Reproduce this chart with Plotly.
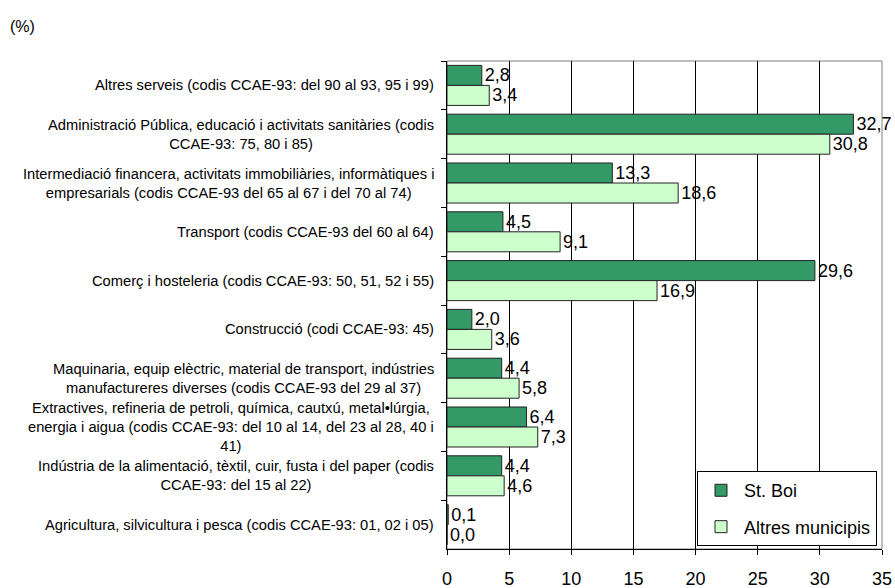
import plotly.graph_objects as go

categories = [
    "Altres serveis (codis CCAE-93: del 90 al 93, 95 i 99)",
    "Administració Pública, educació i activitats sanitàries (codis<br>CCAE-93: 75, 80 i 85)",
    "Intermediació financera, activitats immobiliàries, informàtiques i<br>empresarials (codis CCAE-93 del 65 al 67 i del 70 al 74)",
    "Transport (codis CCAE-93 del 60 al 64)",
    "Comerç i hosteleria (codis CCAE-93: 50, 51, 52 i 55)",
    "Construcció (codi CCAE-93: 45)",
    "Maquinaria, equip elèctric, material de transport, indústries<br>manufactureres diverses (codis CCAE-93 del 29 al 37)",
    "Extractives, refineria de petroli, química, cautxú, metal•lúrgia,<br>energia i aigua (codis CCAE-93: del 10 al 14, del 23 al 28, 40 i<br>41)",
    "Indústria de la alimentació, tèxtil, cuir, fusta i del paper (codis<br>CCAE-93: del 15 al 22)",
    "Agricultura, silvicultura i pesca (codis CCAE-93: 01, 02 i 05)",
]
st_boi = [2.8, 32.7, 13.3, 4.5, 29.6, 2.0, 4.4, 6.4, 4.4, 0.1]
altres = [3.4, 30.8, 18.6, 9.1, 16.9, 3.6, 5.8, 7.3, 4.6, 0.0]
x_ticks = [0, 5, 10, 15, 20, 25, 30, 35]


def fmt(v):
    return f"{v:.1f}".replace(".", ",")


FONT = "Liberation Sans, Arial, sans-serif"

fig = go.Figure()
fig.add_trace(go.Bar(
    y=categories, x=st_boi, orientation="h", name="St. Boi",
    legendgroup="a",
    marker=dict(color="#339966", line=dict(color="#222222", width=1)),
    text=[fmt(v) for v in st_boi], textposition="outside",
    textfont=dict(size=18, color="#000000", family=FONT),
    cliponaxis=False, hoverinfo="skip",
))
fig.add_trace(go.Bar(
    y=categories, x=altres, orientation="h", name="Altres municipis",
    legendgroup="b",
    marker=dict(color="#CCFFCC", line=dict(color="#222222", width=1)),
    text=[fmt(v) for v in altres], textposition="outside",
    textfont=dict(size=18, color="#000000", family=FONT),
    cliponaxis=False, hoverinfo="skip",
))

annotations = []
for c in categories:
    annotations.append(dict(
        x=0, xref="paper", y=c, yref="y", text=c, showarrow=False,
        xanchor="right", yanchor="middle", align="center", xshift=-11,
        font=dict(size=14.7, color="#000000", family=FONT),
    ))
annotations.append(dict(
    x=(8 - 447) / 435, xref="paper", y=(549 - 27) / 488, yref="paper",
    text="(%)", showarrow=False, xanchor="left", yanchor="middle",
    font=dict(size=16, color="#000000", family=FONT),
))

fig.update_layout(
    width=895, height=588,
    margin=dict(l=447, r=13, t=61, b=39),
    paper_bgcolor="white", plot_bgcolor="white",
    font=dict(family=FONT, color="#000000"),
    barmode="group", bargap=0.18, bargroupgap=0,
    showlegend=True,
    legend=dict(
        x=(877 - 447) / 435, y=0.006, xanchor="right", yanchor="bottom",
        bordercolor="#000000", borderwidth=1, bgcolor="white",
        font=dict(size=18, family=FONT, color="#000000"),
        traceorder="grouped", tracegroupgap=10, itemwidth=36,
    ),
    annotations=annotations,
    shapes=[dict(type="rect", xref="paper", yref="paper", x0=0, x1=1, y0=0, y1=1,
                 line=dict(color="#808080", width=1), layer="below")],
)
fig.update_xaxes(
    range=[0, 35], tickvals=x_ticks, ticktext=[str(t) for t in x_ticks],
    showgrid=True, gridcolor="#000000", gridwidth=1,
    showline=True, linecolor="#000000", linewidth=1,
    ticks="outside", ticklen=5, tickcolor="#000000",
    tickfont=dict(size=18, family=FONT, color="#000000"),
    ticklabelstandoff=8,
    zeroline=False, fixedrange=True, automargin=False,
)
fig.update_yaxes(
    autorange="reversed", showticklabels=False,
    showline=True, linecolor="#000000", linewidth=1,
    ticks="outside", ticklen=5, tickcolor="#000000", tickson="boundaries",
    showgrid=False, fixedrange=True, automargin=False,
)
fig.write_html("out.html", config={"displayModeBar": False},
               post_script="document.body.style.margin='0';")
